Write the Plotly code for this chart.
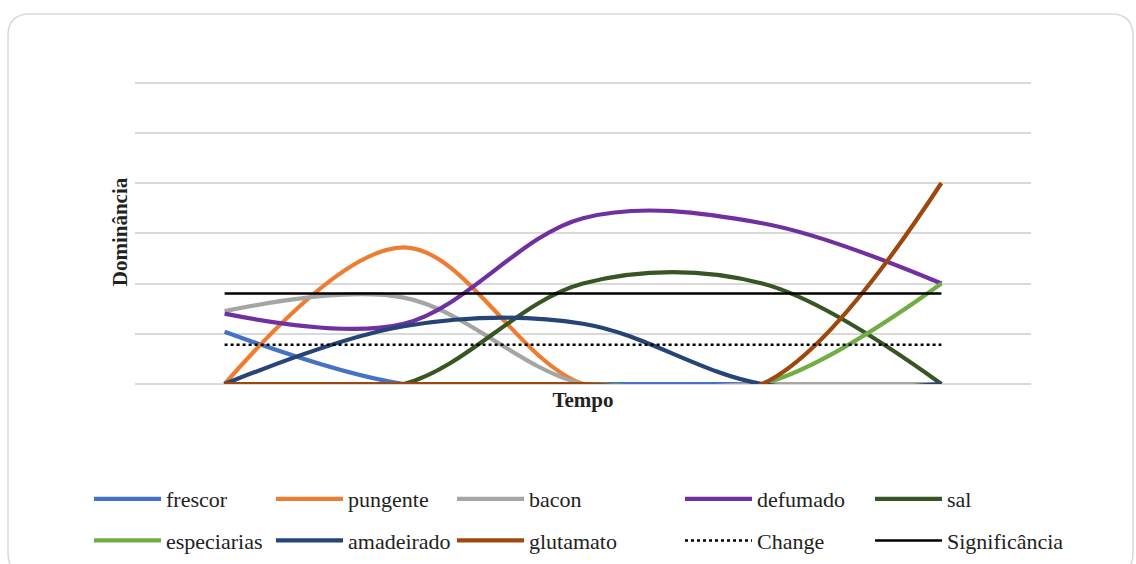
import plotly.graph_objects as go

# Time points (categories along the x axis)
tempo = [1, 2, 3, 4, 5]

# Dominance rate per attribute at each time point
frescor = [0.104, 0.0, 0.0, 0.0, 0.0]
pungente = [0.0, 0.272, 0.0, 0.0, 0.0]
bacon = [0.145, 0.172, 0.0, 0.0, 0.0]
defumado = [0.14, 0.12, 0.33, 0.32, 0.2]
sal = [0.0, 0.0, 0.2, 0.2, 0.0]
especiarias = [0.0, 0.0, 0.0, 0.0, 0.2]
amadeirado = [0.0, 0.115, 0.12, 0.0, 0.0]
glutamato = [0.0, 0.0, 0.0, 0.0, 0.4]

# Reference levels
change = [0.078] * 5
significancia = [0.18] * 5

# name, values, colour, legend column
series = [
    ("frescor", frescor, "#4472C4", "legend"),
    ("pungente", pungente, "#ED7D31", "legend2"),
    ("bacon", bacon, "#A5A5A5", "legend3"),
    ("defumado", defumado, "#7030A0", "legend4"),
    ("sal", sal, "#375623", "legend5"),
    ("especiarias", especiarias, "#70AD47", "legend"),
    ("amadeirado", amadeirado, "#264478", "legend2"),
    ("glutamato", glutamato, "#9E480E", "legend3"),
]

W, H = 1136, 564
ML, MR, MT, MB = 135, 105, 80, 180
FONT = "Liberation Serif, Times New Roman, serif"
TXT = "#222222"

fig = go.Figure()
for name, vals, color, leg in series:
    fig.add_trace(go.Scatter(
        x=tempo, y=vals, name=name, mode="lines", legend=leg, legendgroup=name,
        line=dict(color=color, width=4.2, shape="spline", smoothing=1.0),
    ))

fig.add_trace(go.Scatter(
    x=tempo, y=change, name="Change", mode="lines",
    legend="legend4", legendgroup="Change",
    line=dict(color="black", width=2.5, dash="dot"),
))
fig.add_trace(go.Scatter(
    x=tempo, y=significancia, name="Significância", mode="lines",
    legend="legend5", legendgroup="Significância",
    line=dict(color="black", width=2.5),
))

# Pixel positions converted to paper coordinates
pw, ph = W - ML - MR, H - MT - MB
def px(x):
    return (x - ML) / pw
def py(y):
    return (H - MB - y) / ph

# Rounded outer frame
x0, y0, x1, y1, r = 8, 14, 1133, 575, 22
frame = (
    f"M {px(x0 + r)},{py(y0)} L {px(x1 - r)},{py(y0)} "
    f"Q {px(x1)},{py(y0)} {px(x1)},{py(y0 + r)} "
    f"L {px(x1)},{py(y1 - r)} Q {px(x1)},{py(y1)} {px(x1 - r)},{py(y1)} "
    f"L {px(x0 + r)},{py(y1)} Q {px(x0)},{py(y1)} {px(x0)},{py(y1 - r)} "
    f"L {px(x0)},{py(y0 + r)} Q {px(x0)},{py(y0)} {px(x0 + r)},{py(y0)} Z"
)

# Legend laid out as five two-row columns below the plot
def legend_col(xleft):
    return dict(
        orientation="v", xref="paper", yref="paper",
        x=px(xleft), y=py(520), xanchor="left", yanchor="middle",
        itemwidth=67, tracegroupgap=10, traceorder="grouped",
        font=dict(family=FONT, size=22, color=TXT),
        bgcolor="rgba(0,0,0,0)",
    )

fig.update_layout(
    width=W, height=H,
    margin=dict(l=ML, r=MR, t=MT, b=MB, pad=0, autoexpand=False),
    paper_bgcolor="white", plot_bgcolor="white",
    font=dict(family=FONT, size=21, color=TXT),
    showlegend=True,
    legend=legend_col(89),
    legend2=legend_col(271),
    legend3=legend_col(452),
    legend4=legend_col(680),
    legend5=legend_col(870),
    xaxis=dict(
        range=[0.5, 5.5], showticklabels=False, showgrid=False,
        zeroline=False, showline=False, ticks="",
        title=dict(text="<b>Tempo</b>", standoff=8,
                   font=dict(family=FONT, size=21, color=TXT)),
    ),
    yaxis=dict(
        range=[0, 0.605], tick0=0, dtick=0.1, showticklabels=False,
        showgrid=True, gridcolor="#D9D9D9", gridwidth=1.5,
        zeroline=True, zerolinecolor="#D9D9D9", zerolinewidth=1.5,
        showline=False, ticks="",
        title=dict(text="<b>Dominância</b>", standoff=0,
                   font=dict(family=FONT, size=21, color=TXT)),
    ),
    shapes=[dict(
        type="path", path=frame, xref="paper", yref="paper",
        line=dict(color="#D9D9D9", width=1.5), fillcolor="rgba(0,0,0,0)",
        layer="below",
    )],
)

fig.write_html("out.html")
